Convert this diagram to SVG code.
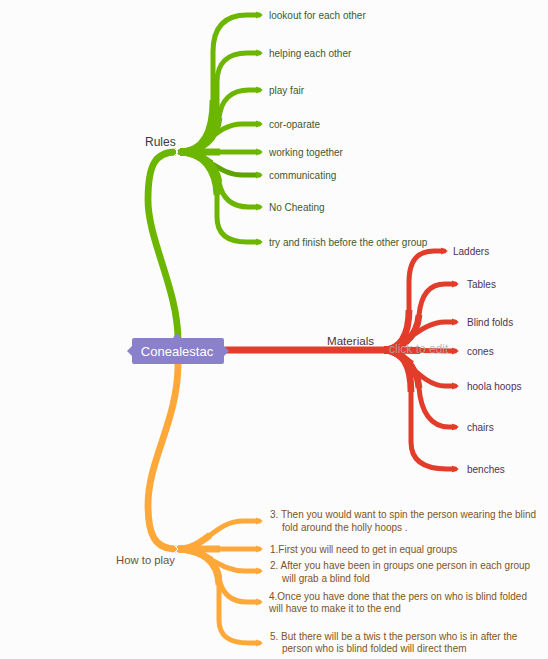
<svg xmlns="http://www.w3.org/2000/svg" width="548" height="659" viewBox="0 0 548 659">
<style>
.g{fill:none;stroke:#6cb600;stroke-width:5;stroke-linecap:round;stroke-linejoin:round}
.gd{fill:none;stroke:#5ea400;stroke-width:5;stroke-linecap:round}
.r{fill:none;stroke:#e23c2b;stroke-width:5;stroke-linecap:round;stroke-linejoin:round}
.o{fill:none;stroke:#ffa83a;stroke-width:5;stroke-linecap:round;stroke-linejoin:round}
.h{stroke-width:6.8;stroke-linecap:butt}
.tk{stroke-width:6.8;stroke-linecap:butt}
.ga{fill:#6cb600}.ra{fill:#e23c2b}.oa{fill:#ffa83a}
.chev{fill:none;stroke:#ffffff;stroke-width:1}
text{font-family:"Liberation Sans",Arial,sans-serif}
.gt{font-size:10px;fill:#3e5a2c}
.rt{font-size:10px;fill:#4e3352}
.ot{font-size:10px;fill:#7e5424}
</style>
<rect width="548" height="659" fill="#fcfcfc"/>
<g id="connectors">
<!-- trunks -->
<path class="g tk" d="M178,340 C178,290 148,240 148,200 C148,165 155,152 176,152"/>
<path class="o tk" d="M178,364 C178,420 148,460 148,505 C148,535 155,549 176,549"/>
<path class="r" style="stroke-width:7" d="M226,350 L386,350"/>
<!-- green leaves -->
<path class="g" d="M180,152 C203,152 213,132 213,100 L213,52 C213,28 224,15 247,15 L259,15"/>
<path class="g" d="M180,152 C203,152 217,134 217,110 L217,82 C217,63 228,53 247,53 L259,53"/>
<path class="g" d="M180,152 C203,152 217,138 219,118 C221,100 231,90 249,90 L259,90"/>
<path class="g" d="M180,152 C205,152 215,124 242,124 L259,124"/>
<path class="g" d="M180,152 L259,152"/>
<path class="gd" d="M180,152 C205,152 218,175 242,175 L259,175"/>
<path class="g" d="M180,152 C203,152 216,165 219,182 C222,198 231,207 249,207 L259,207"/>
<path class="g" d="M180,152 C203,152 216,170 217,195 L217,217 C217,234 227,242 247,242 L259,242"/>
<path class="g h" d="M180,152 C203,152 213,132 213,100"/>
<path class="g h" d="M180,152 C203,152 217,134 217,110"/>
<path class="g h" d="M180,152 C203,152 217,138 219,118"/>
<path class="g h" d="M180,152 C192.5,152 201.25,145 210.25,138"/>
<path class="g h" d="M180,152 L220,152"/>
<path class="gd h" d="M180,152 C192.5,152 202,157.75 211.4,163.5"/>
<path class="g h" d="M180,152 C203,152 216,165 219,182"/>
<path class="g h" d="M180,152 C203,152 216,170 217,195"/>
<polygon class="ga" points="256,11.5 263,15 256,18.5"/>
<polygon class="ga" points="256,49.5 263,53 256,56.5"/>
<polygon class="ga" points="256,86.5 263,90 256,93.5"/>
<polygon class="ga" points="256,120.5 263,124 256,127.5"/>
<polygon class="ga" points="256,148.5 263,152 256,155.5"/>
<polygon class="ga" points="256,171.5 263,175 256,178.5"/>
<polygon class="ga" points="256,203.5 263,207 256,210.5"/>
<polygon class="ga" points="256,238.5 263,242 256,245.5"/>
<!-- red leaves -->
<path class="r" d="M384,350 C400,350 409,335 409,310 L409,282 C409,261 417,251 434,251 L444,251"/>
<path class="r" d="M384,350 C400,350 417,338 419,315 C421,295 429,284 445,284 L455,284"/>
<path class="r" d="M384,350 C402,350 420,322 445,322 L455,322"/>
<path class="r" d="M384,350 L455,351"/>
<path class="r" d="M384,350 C402,350 420,386 445,386 L455,386"/>
<path class="r" d="M384,350 C400,350 417,365 419,388 C421,412 431,427 449,427 L455,427"/>
<path class="r" d="M384,350 C400,350 411,362 411,392 L411,442 C411,460 423,469 447,469 L455,469"/>
<path class="r h" d="M384,350 C400,350 409,335 409,310"/>
<path class="r h" d="M384,350 C400,350 417,338 419,315"/>
<path class="r h" d="M384,350 C393,350 402,343 411.9,336"/>
<path class="r h" d="M384,350 L420,350.5"/>
<path class="r h" d="M384,350 C393,350 402,357 411.9,364"/>
<path class="r h" d="M384,350 C400,350 417,365 419,388"/>
<path class="r h" d="M384,350 C400,350 411,362 411,392"/>
<polygon class="ra" points="441,247.5 448,251 441,254.5"/>
<polygon class="ra" points="452,280.5 459,284 452,287.5"/>
<polygon class="ra" points="452,318.5 459,322 452,325.5"/>
<polygon class="ra" points="452,347.5 459,351 452,354.5"/>
<polygon class="ra" points="452,382.5 459,386 452,389.5"/>
<polygon class="ra" points="452,423.5 459,427 452,430.5"/>
<polygon class="ra" points="452,465.5 459,469 452,472.5"/>
<!-- orange leaves -->
<path class="o" d="M178,549 C205,549 215,521 243,521 L259,521"/>
<path class="o" d="M178,549 L259,549"/>
<path class="o" d="M178,549 C205,549 218,571 245,571 L259,571"/>
<path class="o" d="M178,549 C202,549 216,562 219,578 C222,594 231,602 247,602 L259,602"/>
<path class="o" d="M178,549 C200,549 218,560 219,585 L219,620 C219,636 229,643 249,643 L259,643"/>
<path class="o h" d="M178,549 C191.5,549 200.75,542 210.1,535"/>
<path class="o h" d="M178,549 L220,549"/>
<path class="o h" d="M178,549 C191.5,549 201.5,554.5 211.5,560"/>
<path class="o h" d="M178,549 C202,549 216,562 219,578"/>
<path class="o h" d="M178,549 C200,549 218,560 219,585"/>
<polygon class="oa" points="256,517.5 263,521 256,524.5"/>
<polygon class="oa" points="256,545.5 263,549 256,552.5"/>
<polygon class="oa" points="256,567.5 263,571 256,574.5"/>
<polygon class="oa" points="256,598.5 263,602 256,605.5"/>
<polygon class="oa" points="256,639.5 263,643 256,646.5"/>
<polyline class="chev" points="174,148 178,152 174,156"/>
<polyline class="chev" points="174,545 178,549 174,553"/>
</g>
<g id="central">
<polygon points="132,346 127,351 132,356" fill="#8b80cc"/>
<polygon points="173,338 177,333 181,338" fill="#8b80cc"/>
<polygon points="224,346 229,351 224,356" fill="#8b80cc"/>
<rect x="132" y="338" width="92" height="26" rx="2" fill="#8b80cc"/>
<text x="177" y="356" text-anchor="middle" font-size="13" fill="#ffffff">Conealestac</text>
</g>
<g id="rules"><text x="145" y="146" font-size="12" fill="#3a3a3a">Rules</text></g>
<g id="materials"><text x="327" y="345" font-size="11.6" fill="#4f3040">Materials</text></g>
<g id="howtoplay"><text x="116" y="564" font-size="11.3" fill="#6a5434">How to play</text></g>
<g id="click-to-edit"><text x="389" y="353" font-size="12" fill="#b0a8a8" fill-opacity="0.85">click to edit</text></g>
<g id="rules-leaves">
<text class="gt" x="269" y="18.5">lookout for each other</text>
<text class="gt" x="269" y="56.5">helping each other</text>
<text class="gt" x="269" y="93.5">play fair</text>
<text class="gt" x="269" y="127.5">cor-oparate</text>
<text class="gt" x="269" y="155.5">working together</text>
<text class="gt" x="269" y="178.5">communicating</text>
<text class="gt" x="269" y="210.5">No Cheating</text>
<text class="gt" x="269" y="245.5">try and finish before the other group</text>
</g>
<g id="materials-leaves">
<text class="rt" x="453" y="254.5">Ladders</text>
<text class="rt" x="467" y="287.5">Tables</text>
<text class="rt" x="467" y="325.5">Blind folds</text>
<text class="rt" x="467" y="354.5">cones</text>
<text class="rt" x="467" y="389.5">hoola hoops</text>
<text class="rt" x="467" y="430.5">chairs</text>
<text class="rt" x="467" y="472.5">benches</text>
</g>
<g id="howtoplay-leaves">
<text class="ot" x="270" y="518">3. Then you would want to spin the person wearing the blind</text>
<text class="ot" x="282" y="531">fold around the holly hoops .</text>
<text class="ot" x="270" y="553">1.First you will need to get in equal groups</text>
<text class="ot" x="270" y="569">2. After you have been in groups one person in each group</text>
<text class="ot" x="282" y="582">will grab a blind fold</text>
<text class="ot" x="269" y="600">4.Once you have done that the pers on who is blind folded</text>
<text class="ot" x="269" y="612">will have to make it to the end</text>
<text class="ot" x="270" y="640">5. But there will be a twis t the person who is in after the</text>
<text class="ot" x="282" y="652">person who is blind folded will direct them</text>
</g>
</svg>
